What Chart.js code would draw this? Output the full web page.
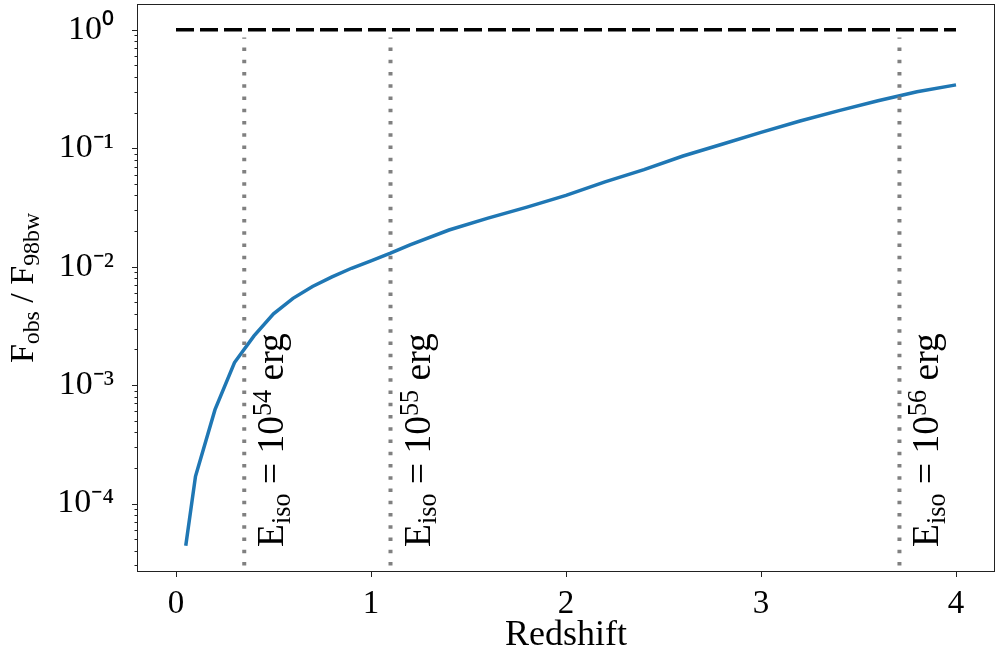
<!DOCTYPE html>
<html lang="en">
<head>
<meta charset="UTF-8">
<title>Flux ratio vs redshift</title>
<script src="https://cdn.jsdelivr.net/npm/chart.js"></script>
<style>
  html, body { margin: 0; padding: 0; background: #fff; }
  #wrap { width: 996px; height: 659px; }
</style>
</head>
<body>
<div id="wrap"><canvas id="fluxChart"></canvas></div>
<script>
// redshift grid and flux ratio F_obs / F_98bw
const redshift = [0.05, 0.1, 0.2, 0.3, 0.4, 0.5, 0.6, 0.7, 0.8, 0.9, 1.0, 1.1, 1.2, 1.4, 1.6, 1.8,
                  2.0, 2.2, 2.4, 2.6, 2.8, 3.0, 3.2, 3.4, 3.6, 3.8, 4.0];
const fluxRatio = [4.4e-5, 1.7e-4, 6.2e-4, 1.55e-3, 2.6e-3, 4.0e-3, 5.4e-3, 6.8e-3, 8.2e-3, 9.7e-3,
                   1.12e-2, 1.3e-2, 1.53e-2, 2.04e-2, 2.57e-2, 3.18e-2, 4.0e-2, 5.2e-2, 6.6e-2,
                   8.6e-2, 0.108, 0.136, 0.170, 0.208, 0.252, 0.300, 0.343];

// reference level F_obs = F_98bw
const refLineX = [0, 4];
const refLineY = [1, 1];

// redshifts where E_iso reaches 10^54, 10^55, 10^56 erg
const eisoZ = [0.35, 1.1, 3.71];
const eisoExp = ['54', '55', '56'];
const eisoLineTop = 0.86;
const eisoLineBottom = 3e-5;
const eisoLabelY = 4.3e-5;

const xTicks = [0, 1, 2, 3, 4];
const yTicks = [1e-4, 1e-3, 1e-2, 1e-1, 1];
const yTickLabels = ['10⁻⁴', '10⁻³', '10⁻²', '10⁻¹', '10⁰'];

const SERIF = '"Liberation Serif", "Times New Roman", serif';

// rotated text (reading upwards); parts: [text, kind], kind 0 normal, 1 sub, 2 sup
function richWidth(ctx, parts, size) {
    let w = 0;
    parts.forEach(([t, kind]) => {
        ctx.font = (kind ? size * 0.7 : size) + 'px ' + SERIF;
        w += ctx.measureText(t).width;
    });
    return w;
}

function drawRich(ctx, parts, size, x, y) {
    ctx.save();
    ctx.translate(x, y);
    ctx.rotate(-Math.PI / 2);
    ctx.fillStyle = '#000';
    ctx.textBaseline = 'alphabetic';
    ctx.textAlign = 'left';
    let cx = 0;
    parts.forEach(([t, kind]) => {
        const s = kind ? size * 0.7 : size;
        const dy = kind === 1 ? size * 0.18 : (kind === 2 ? -size * 0.32 : 0);
        ctx.font = s + 'px ' + SERIF;
        ctx.fillText(t, cx, dy);
        cx += ctx.measureText(t).width;
    });
    ctx.restore();
}

const framePlugin = {
    id: 'frame',
    afterDatasetsDraw(chart) {
        const { ctx, chartArea: a, scales: { x, y } } = chart;
        ctx.save();
        ctx.strokeStyle = '#222';
        ctx.lineWidth = 1;
        ctx.strokeRect(a.left + 0.5, a.top + 0.5, a.right - a.left - 1, a.bottom - a.top - 1);

        // major ticks
        ctx.beginPath();
        xTicks.forEach(v => {
            const px = Math.round(x.getPixelForValue(v)) + 0.5;
            ctx.moveTo(px, a.bottom);
            ctx.lineTo(px, a.bottom + 5);
        });
        yTicks.forEach(v => {
            const py = Math.round(y.getPixelForValue(v)) + 0.5;
            ctx.moveTo(a.left, py);
            ctx.lineTo(a.left - 5, py);
        });
        // minor log ticks
        for (let k = -5; k <= 0; k++) {
            for (let m = 2; m <= 9; m++) {
                const v = m * Math.pow(10, k);
                if (v < y.min || v > y.max) continue;
                const py = Math.round(y.getPixelForValue(v)) + 0.5;
                ctx.moveTo(a.left, py);
                ctx.lineTo(a.left - 2.5, py);
            }
        }
        ctx.stroke();
        ctx.restore();

        // E_iso labels next to the dotted lines
        eisoZ.forEach((z, i) => {
            drawRich(ctx, [['E', 0], ['iso', 1], [' = 10', 0], [eisoExp[i], 2], [' erg', 0]], 37.5,
                x.getPixelForValue(z) + 39, y.getPixelForValue(eisoLabelY));
        });

        // y axis title with subscripts
        const yParts = [['F', 0], ['obs', 1], [' / F', 0], ['98bw', 1]];
        const w = richWidth(ctx, yParts, 34);
        drawRich(ctx, yParts, 34, 33, (a.top + a.bottom) / 2 + w / 2);
    }
};

const datasets = [{
    label: 'flux ratio',
    data: redshift.map((z, i) => ({ x: z, y: fluxRatio[i] })),
    borderColor: '#1f77b4',
    borderWidth: 3.5,
    order: 2
}, {
    label: 'F_98bw',
    data: refLineX.map((z, i) => ({ x: z, y: refLineY[i] })),
    borderColor: '#000',
    borderWidth: 3.5,
    borderDash: [18, 6],
    order: 1
}];
eisoZ.forEach(z => {
    datasets.push({
        label: 'E_iso',
        data: [{ x: z, y: eisoLineBottom }, { x: z, y: eisoLineTop }],
        borderColor: 'gray',
        borderWidth: 4,
        borderDash: [3.5, 8.75],
        borderCapStyle: 'butt',
        order: 0
    });
});

new Chart(document.getElementById('fluxChart').getContext('2d'), {
    type: 'line',
    data: { datasets },
    options: {
        responsive: true,
        maintainAspectRatio: false,
        animation: false,
        layout: { padding: { top: 4, right: 1, left: 0, bottom: 0 } },
        plugins: { legend: { display: false }, tooltip: { enabled: false } },
        elements: { point: { radius: 0 }, line: { tension: 0 } },
        scales: {
            x: {
                type: 'linear',
                min: -0.2,
                max: 4.2,
                grid: { display: false },
                border: { display: false },
                afterBuildTicks: s => { s.ticks = xTicks.map(v => ({ value: v })); },
                afterFit: s => { s.height = 87; s.paddingLeft = 0; s.paddingRight = 0; },
                ticks: {
                    font: { family: SERIF, size: 33 },
                    color: '#000',
                    padding: 5,
                    maxRotation: 0,
                    autoSkip: false,
                    callback: v => String(v)
                },
                title: {
                    display: true,
                    text: 'Redshift',
                    font: { family: SERIF, size: 36, lineHeight: 1.2 },
                    color: '#000',
                    padding: { top: 0, bottom: 2 }
                }
            },
            y: {
                type: 'logarithmic',
                min: Math.pow(10, -4.578),
                max: Math.pow(10, 0.218),
                grid: { display: false },
                border: { display: false },
                afterBuildTicks: s => { s.ticks = yTicks.map(v => ({ value: v })); },
                afterFit: s => { s.width = 137; s.paddingTop = 0; s.paddingBottom = 0; },
                ticks: {
                    font: { family: SERIF, size: 34 },
                    color: '#000',
                    padding: 15,
                    autoSkip: false,
                    callback: v => yTickLabels[yTicks.indexOf(v)]
                }
            }
        }
    },
    plugins: [framePlugin]
});
</script>
</body>
</html>
